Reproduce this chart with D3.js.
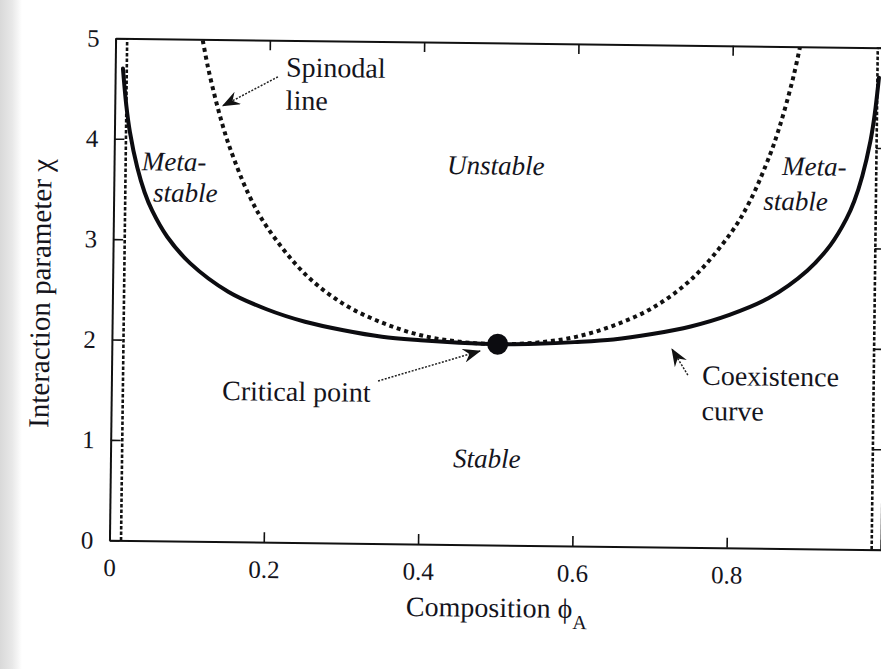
<!DOCTYPE html>
<html>
<head>
<meta charset="utf-8">
<script src="https://cdn.jsdelivr.net/npm/d3@7"></script>
<style>
  html, body { margin: 0; padding: 0; background: #fff; }
  svg { display: block; }
  text { font-family: "Liberation Serif", "Times New Roman", Times, serif; fill: #14141c; }
</style>
</head>
<body>
<svg id="chart" width="881" height="669"></svg>
<script>
// Axis ticks (the tick at 1 sits on the right frame edge and carries no label)
const phiTicks = [0, 0.2, 0.4, 0.6, 0.8, 1];
const phiTickLabels = ["0", "0.2", "0.4", "0.6", "0.8", ""];
const chiTicks = [0, 1, 2, 3, 4, 5];
const chiTickLabels = ["0", "1", "2", "3", "4", "5"];

// Coexistence (binodal) curve: composition vs interaction parameter
const coexPhi = [0.01, 0.015, 0.02, 0.03, 0.04, 0.05, 0.07, 0.10, 0.15, 0.20, 0.25, 0.30, 0.35, 0.40, 0.45, 0.50,
                 0.55, 0.60, 0.65, 0.70, 0.75, 0.80, 0.85, 0.90, 0.93, 0.95, 0.96, 0.97, 0.98, 0.985, 0.99];
const coexChi = [4.70, 4.33, 4.07, 3.72, 3.47, 3.29, 3.03, 2.77, 2.49, 2.32, 2.20, 2.12, 2.06, 2.03, 2.01, 2.00,
                 2.01, 2.03, 2.06, 2.12, 2.20, 2.32, 2.49, 2.77, 3.03, 3.29, 3.47, 3.72, 4.07, 4.33, 4.70];

// Spinodal line
const spinPhi = [0.113, 0.12, 0.13, 0.14, 0.15, 0.175, 0.20, 0.25, 0.30, 0.35, 0.40, 0.45, 0.50,
                 0.55, 0.60, 0.65, 0.70, 0.75, 0.80, 0.825, 0.85, 0.86, 0.87, 0.88, 0.887];
const spinChi = [4.99, 4.73, 4.42, 4.15, 3.92, 3.46, 3.13, 2.67, 2.38, 2.20, 2.08, 2.02, 2.00,
                 2.02, 2.08, 2.20, 2.38, 2.67, 3.13, 3.46, 3.92, 4.15, 4.42, 4.73, 4.99];

// Vertical limit lines near the pure components
const limitPhi = [0.015, 0.988];

// Critical point
const criticalPhi = 0.5;
const criticalChi = 2.0;

// ---------------------------------------------------------------------------
const W = 881, H = 669;
const plot = { left: 112.5, right: 884, top: 43, bottom: 545 };
const tilt = 0.7; // the printed figure sits slightly skewed on the page

const svg = d3.select("#chart");

// shaded page edge on the left
const defs = svg.append("defs");
const edge = defs.append("linearGradient").attr("id", "pageEdge").attr("x1", 0).attr("x2", 1);
edge.append("stop").attr("offset", 0).attr("stop-color", "#d9d9d9");
edge.append("stop").attr("offset", 0.55).attr("stop-color", "#e8e8e8");
edge.append("stop").attr("offset", 1).attr("stop-color", "#ffffff");
svg.append("rect").attr("width", W).attr("height", H).attr("fill", "#fff");
svg.append("rect").attr("x", 0).attr("y", 0).attr("width", 22).attr("height", H).attr("fill", "url(#pageEdge)");

// arrowhead
defs.append("marker")
  .attr("id", "barb")
  .attr("viewBox", "0 0 18 14")
  .attr("refX", 17).attr("refY", 7)
  .attr("markerWidth", 18).attr("markerHeight", 14)
  .attr("markerUnits", "userSpaceOnUse")
  .attr("orient", "auto")
  .append("path")
  .attr("d", "M0,0 L18,7 L0,14 L6,7 Z")
  .attr("fill", "#111");

const x = d3.scaleLinear().domain([0, 1]).range([plot.left, plot.right]);
const y = d3.scaleLinear().domain([0, 5]).range([plot.bottom, plot.top]);

const cx = (plot.left + plot.right) / 2, cy = (plot.top + plot.bottom) / 2;
const g = svg.append("g").attr("transform", `rotate(${tilt},${cx},${cy})`);

// axes with inward ticks on all four sides
const tickFont = 25;
const xAxis = d3.axisBottom(x).tickValues(phiTicks)
  .tickFormat((d, i) => phiTickLabels[i]).tickSizeInner(-10).tickSizeOuter(0).tickPadding(18);
const yAxis = d3.axisLeft(y).tickValues(chiTicks)
  .tickFormat((d, i) => chiTickLabels[i]).tickSizeInner(-10).tickSizeOuter(0).tickPadding(16);
const xTop = d3.axisTop(x).tickValues(phiTicks).tickFormat("").tickSizeInner(-10).tickSizeOuter(0);
const yRight = d3.axisRight(y).tickValues(chiTicks).tickFormat("").tickSizeInner(-10).tickSizeOuter(0);

function styleAxis(sel) {
  sel.select(".domain").attr("stroke", "#111").attr("stroke-width", 2);
  sel.selectAll(".tick line").attr("stroke", "#111").attr("stroke-width", 1.6);
  sel.selectAll(".tick text")
    .style("font-family", '"Liberation Serif", "Times New Roman", serif')
    .attr("font-size", tickFont).attr("fill", "#14141c");
  sel.attr("font-family", null);
}

g.append("g").attr("transform", `translate(0,${plot.bottom})`).call(xAxis).call(styleAxis);
g.append("g").attr("transform", `translate(${plot.left},0)`).call(yAxis).call(styleAxis);
g.append("g").attr("transform", `translate(0,${plot.top})`).call(xTop).call(styleAxis);
g.append("g").attr("transform", `translate(${plot.right},0)`).call(yRight).call(styleAxis);

// axis titles
const xTitle = g.append("text")
  .attr("x", x(0.5) + 2).attr("y", 617)
  .attr("text-anchor", "middle").attr("font-size", 28);
xTitle.append("tspan").text("Composition ");
xTitle.append("tspan").text("ϕ");
xTitle.append("tspan").attr("font-size", 20).attr("dy", 11).text("A");

g.append("text")
  .attr("transform", `translate(50,${cy + 5}) rotate(-90)`)
  .attr("text-anchor", "middle").attr("font-size", 29)
  .text("Interaction parameter χ");

// vertical limit lines
g.selectAll("line.limit").data(limitPhi).join("line")
  .attr("class", "limit")
  .attr("x1", d => x(d)).attr("x2", d => x(d))
  .attr("y1", y(0)).attr("y2", y(5))
  .attr("stroke", "#111").attr("stroke-width", 2.6)
  .attr("stroke-dasharray", "3.5,2");

// spinodal (dotted)
const curveLine = d3.line().x(d => x(d[0])).y(d => y(d[1])).curve(d3.curveCatmullRom.alpha(0.5));
g.append("path")
  .datum(d3.zip(spinPhi, spinChi))
  .attr("d", curveLine)
  .attr("fill", "none").attr("stroke", "#111")
  .attr("stroke-width", 4).attr("stroke-dasharray", "4,3.8");

// coexistence curve (solid)
g.append("path")
  .datum(d3.zip(coexPhi, coexChi))
  .attr("d", curveLine)
  .attr("fill", "none").attr("stroke", "#0c0c10")
  .attr("stroke-width", 4).attr("stroke-linecap", "round");

// critical point
g.append("circle")
  .attr("cx", x(criticalPhi)).attr("cy", y(criticalChi)).attr("r", 10.5)
  .attr("fill", "#0c0c10");

// region labels (italic)
const italicLabels = [
  { text: "Meta-", phi: 0.036, chi: 3.69, anchor: "start" },
  { text: "stable", phi: 0.051, chi: 3.38, anchor: "start" },
  { text: "Meta-", phi: 0.866, chi: 3.72, anchor: "start" },
  { text: "stable", phi: 0.842, chi: 3.37, anchor: "start" },
  { text: "Unstable", phi: 0.495, chi: 3.69, anchor: "middle" },
  { text: "Stable", phi: 0.488, chi: 0.77, anchor: "middle" }
];
g.selectAll("text.region").data(italicLabels).join("text")
  .attr("class", "region")
  .attr("x", d => x(d.phi)).attr("y", d => y(d.chi))
  .attr("text-anchor", d => d.anchor)
  .attr("font-size", 27).attr("font-style", "italic")
  .text(d => d.text);

// annotations with arrows
const notes = [
  { text: ["Spinodal", "line"], phi: 0.2215, chi: [4.64, 4.31],
    from: [0.211, 4.636], to: [0.140, 4.34] },
  { text: ["Critical point"], phi: 0.1436, chi: [1.41],
    from: [0.3456, 1.619], to: [0.4773, 1.930] },
  { text: ["Coexistence", "curve"], phi: 0.7655, chi: [1.62, 1.27],
    from: [0.747, 1.716], to: [0.726, 1.973] }
];
notes.forEach(n => {
  n.text.forEach((t, i) => {
    g.append("text")
      .attr("x", x(n.phi)).attr("y", y(n.chi[i]))
      .attr("font-size", 28)
      .text(t);
  });
  g.append("line")
    .attr("x1", x(n.from[0])).attr("y1", y(n.from[1]))
    .attr("x2", x(n.to[0])).attr("y2", y(n.to[1]))
    .attr("stroke", "#222").attr("stroke-width", 1.5)
    .attr("stroke-dasharray", "2,1.5")
    .attr("marker-end", "url(#barb)");
});
</script>
</body>
</html>
